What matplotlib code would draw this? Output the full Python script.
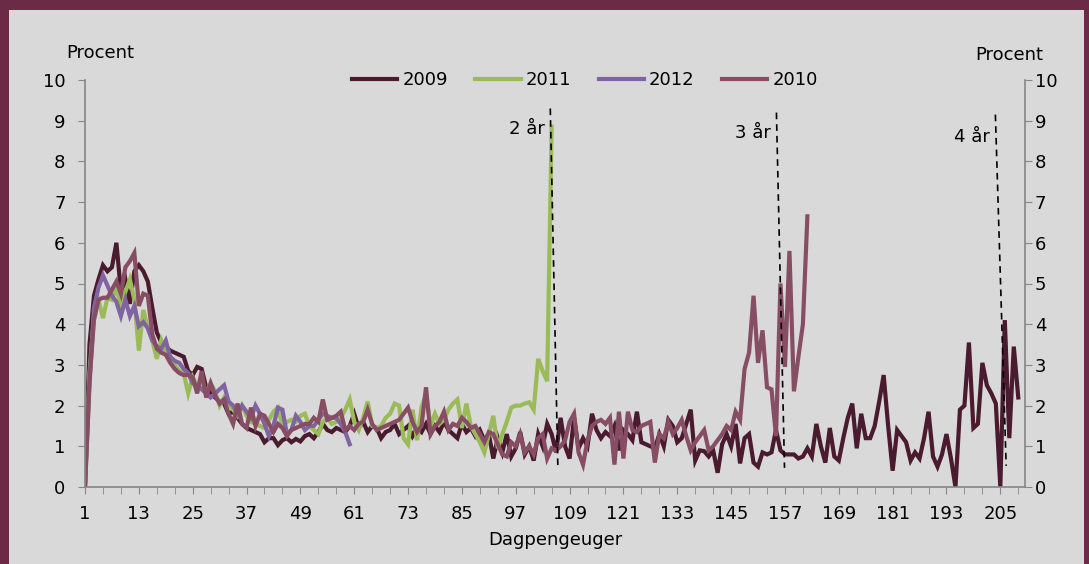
import matplotlib.pyplot as plt
from matplotlib.patches import Rectangle

# Andel (procent) pr. dagpengeuge
y2009 = [
    0, 3.5, 4.7, 5.1, 5.45, 5.3, 5.4, 6.0, 4.8, 5.1,
    4.5, 5.3, 5.45, 5.3, 5.05, 4.4, 3.8, 3.55, 3.45, 3.35,
    3.3, 3.25, 3.2, 2.85, 2.75, 2.95, 2.9, 2.45, 2.3, 2.2,
    2.1, 2.05, 1.8, 1.85, 1.7, 1.55, 1.45, 1.4, 1.35, 1.3,
    1.1, 1.2, 1.2, 1.03, 1.15, 1.2, 1.1, 1.18, 1.12, 1.25,
    1.3, 1.2, 1.35, 1.55, 1.4, 1.35, 1.45, 1.4, 1.35, 1.5,
    1.8, 1.45, 1.6, 1.35, 1.5, 1.45, 1.2, 1.35, 1.4, 1.55,
    1.3, 1.4, 1.5, 1.25, 1.45, 1.35, 1.55, 1.3, 1.5, 1.35,
    1.6, 1.4, 1.3, 1.2, 1.55, 1.35, 1.45, 1.25, 1.4, 1.15,
    1.3, 0.7, 1.2, 0.85, 1.3, 0.75, 0.95, 1.35, 0.8, 1.0,
    0.65, 1.3, 1.0, 1.55, 1.3, 0.85, 1.7, 1.0, 0.7, 1.7,
    0.95, 1.2, 1.0, 1.8, 1.4, 1.2, 1.35, 1.25, 1.5, 0.9,
    1.4, 1.3, 1.15, 1.85, 1.1, 1.05, 1.0, 0.95, 1.3, 1.0,
    1.65, 1.5, 1.1, 1.2, 1.55, 1.9, 0.65, 0.9, 0.88, 0.75,
    0.9, 0.35, 1.05, 1.3, 1.0, 1.55, 0.58, 1.2, 1.3, 0.6,
    0.5, 0.85, 0.8, 0.85, 1.4, 0.9, 0.8, 0.8, 0.8, 0.7,
    0.75, 0.95, 0.75, 1.55, 1.0, 0.6, 1.45, 0.75, 0.65, 1.2,
    1.7, 2.05, 0.95, 1.8, 1.2, 1.2, 1.5, 2.1, 2.75, 1.5,
    0.4, 1.4, 1.25, 1.1, 0.65, 0.85, 0.7, 1.2, 1.85, 0.75,
    0.5, 0.8, 1.3, 0.7, 0, 1.9, 2.0, 3.55, 1.45, 1.55,
    3.05, 2.5, 2.3, 2.05, 0, 4.1, 1.2, 3.45, 2.2,
]

y2011 = [
    0, 2.8, 4.2, 4.6, 4.15, 4.65, 4.6, 4.9, 4.45, 4.8,
    5.1, 4.6, 3.35, 4.35, 3.9, 3.6, 3.15, 3.6, 3.3, 3.2,
    3.0, 2.85, 2.8, 2.3, 2.7, 2.5, 2.6, 2.3, 2.55, 2.35,
    2.0, 2.2, 2.05, 1.9, 1.75, 2.0, 1.75, 1.6, 1.55, 1.5,
    1.45, 1.65, 1.85, 1.95, 1.5, 1.6, 1.65, 1.6, 1.75, 1.8,
    1.5, 1.4, 1.3, 1.6, 1.7, 1.55, 1.6, 1.7, 1.9, 2.15,
    1.6, 1.4, 1.7, 2.1, 1.5, 1.45, 1.5, 1.7, 1.8, 2.05,
    2.0, 1.2, 1.05, 1.9, 1.15, 1.95, 2.3, 1.5, 1.8, 1.55,
    1.65, 1.9, 2.05, 2.15, 1.45, 2.05, 1.5, 1.3, 1.1, 0.85,
    1.3, 1.75, 0.95, 1.3, 1.6, 1.95, 2.0, 2.0, 2.05, 2.08,
    1.9, 3.15, 2.85, 2.6, 8.85,
]

y2012 = [
    0, 2.5, 4.4, 4.9, 5.2, 4.95, 4.7, 4.55, 4.2, 4.6,
    4.2, 4.45, 3.95, 4.05, 3.9, 3.6, 3.45, 3.4, 3.6, 3.2,
    3.1, 3.05, 2.9, 2.8, 2.55, 2.5, 2.4, 2.3, 2.2, 2.3,
    2.4, 2.5, 2.1, 2.0, 1.8, 2.0, 1.85, 1.7, 2.0, 1.8,
    1.55, 1.25, 1.5, 1.95, 1.9, 1.3, 1.4, 1.75, 1.6, 1.4,
    1.5, 1.5, 1.65, 1.8, 1.75, 1.7, 1.7, 1.55, 1.35, 1.05,
]

y2010 = [
    0, 2.6, 4.1, 4.6, 4.65, 4.65, 4.85, 5.05, 4.75, 5.4,
    5.55, 5.75, 4.45, 4.75, 4.7, 3.75, 3.4, 3.3, 3.25, 3.05,
    2.9, 2.8, 2.75, 2.75, 2.7, 2.3, 2.85, 2.2, 2.55, 2.25,
    2.05, 2.15, 1.8, 1.55, 2.05, 1.55, 1.45, 1.95, 1.5, 1.8,
    1.75, 1.55, 1.35, 1.55, 1.45, 1.25, 1.4, 1.45, 1.5, 1.55,
    1.55, 1.7, 1.6, 2.15, 1.65, 1.7, 1.75, 1.85, 1.4, 1.5,
    1.4, 1.55, 1.6, 1.9, 1.55, 1.4, 1.45, 1.5, 1.55, 1.6,
    1.65, 1.8, 1.95, 1.6, 1.35, 1.5, 2.45, 1.3, 1.5, 1.6,
    1.85, 1.4, 1.55, 1.5, 1.7, 1.6, 1.45, 1.5, 1.3, 1.1,
    1.35, 1.3, 1.05, 0.8, 0.75, 1.1, 1.0, 1.3, 0.85, 1.0,
    0.8, 1.2, 1.3, 0.7, 0.95, 0.9, 1.0, 1.15, 1.6, 1.8,
    0.85, 0.55, 1.15, 1.5, 1.6, 1.65, 1.55, 1.7, 0.55, 1.85,
    0.7, 1.85, 1.4, 1.35, 1.5, 1.55, 1.6, 0.6, 1.3, 1.2,
    1.6, 1.3, 1.45, 1.65, 1.25, 0.9, 1.1, 1.25, 1.4, 0.9,
    1.0, 1.15, 1.3, 1.5, 1.4, 1.85, 1.65, 2.9, 3.3, 4.7,
    3.05, 3.85, 2.45, 2.4, 1.25, 5.0, 2.95, 5.8, 2.35, 3.2,
    4.0, 6.65,
]

series = [("2009", y2009, "#4a1a2e"), ("2011", y2011, "#9bbb59"),
          ("2012", y2012, "#8064a2"), ("2010", y2010, "#874d63")]

# stiplede markeringer ved 2, 3 og 4 år
mark_labels = ["2 år", "3 år", "4 år"]
mark_x_top = [104.7, 155.1, 203.9]
mark_x_bot = [106.4, 156.9, 206.3]
mark_y_top = [9.3, 9.2, 9.15]
mark_y_bot = [0.42, 0.47, 0.52]
mark_label_y = [8.8, 8.7, 8.6]

xticks_major = list(range(1, 206, 12))
xticks_minor = list(range(1, 211, 4))

plt.rcParams['font.family'] = 'DejaVu Sans'
fig = plt.figure(figsize=(10.89, 5.64), dpi=100)
fig.patch.set_facecolor('#6b2b47')
fig.patches.append(Rectangle((9 / 1089, 0), 1075 / 1089, 554 / 564,
                             transform=fig.transFigure, facecolor='#d9d9d9',
                             edgecolor='none', zorder=-5))

ax = fig.add_axes([85 / 1089, 1 - 487 / 564, 940 / 1089, 407 / 564])
ax.set_facecolor('none')
for name, vals, col in series:
    weeks = list(range(1, len(vals) + 1))
    ax.plot(weeks, vals, color=col, lw=3, label=name, solid_joinstyle='miter')

for lab, xt, xb, yt, yb, ly in zip(mark_labels, mark_x_top, mark_x_bot,
                                   mark_y_top, mark_y_bot, mark_label_y):
    ax.plot([xt, xb], [yt, yb], color='black', lw=1.2, ls=(0, (4, 3)))
    ax.text(xt - 1.2, ly, lab, ha='right', va='center', fontsize=13)

ax.set_xlim(1, 210.5)
ax.set_ylim(0, 10)
ax.set_yticks(range(0, 11))
ax.set_xticks(xticks_major)
ax.set_xticks(xticks_minor, minor=True)
ax.tick_params(axis='x', which='both', length=5, color='#868686', labelsize=13, pad=8)
ax.tick_params(axis='y', length=5, color='#868686', labelsize=13, pad=9)
for s in ['top', 'right']:
    ax.spines[s].set_visible(False)
for s in ['left', 'bottom']:
    ax.spines[s].set_color('#868686')
    ax.spines[s].set_linewidth(1.2)
ax.set_xlabel('Dagpengeuger', fontsize=13, labelpad=6)

ax2 = ax.twinx()
ax2.set_ylim(0, 10)
ax2.set_yticks(range(0, 11))
ax2.tick_params(axis='y', length=5, color='#868686', labelsize=13, pad=2)
for s in ['top', 'left', 'bottom']:
    ax2.spines[s].set_visible(False)
ax2.spines['right'].set_color('#868686')
ax2.spines['right'].set_linewidth(1.2)

fig.text(100 / 1089, 1 - 53 / 564, 'Procent', ha='center', va='center', fontsize=13)
fig.text(1009 / 1089, 1 - 55 / 564, 'Procent', ha='center', va='center', fontsize=13)

ax.legend(loc='center', bbox_to_anchor=(585 / 1089, 1 - 80 / 564),
          bbox_transform=fig.transFigure, ncol=4, frameon=False, fontsize=13,
          handlelength=2.5, handletextpad=0.3, columnspacing=1.5)

fig.savefig('out.png', dpi=100, facecolor=fig.get_facecolor())
